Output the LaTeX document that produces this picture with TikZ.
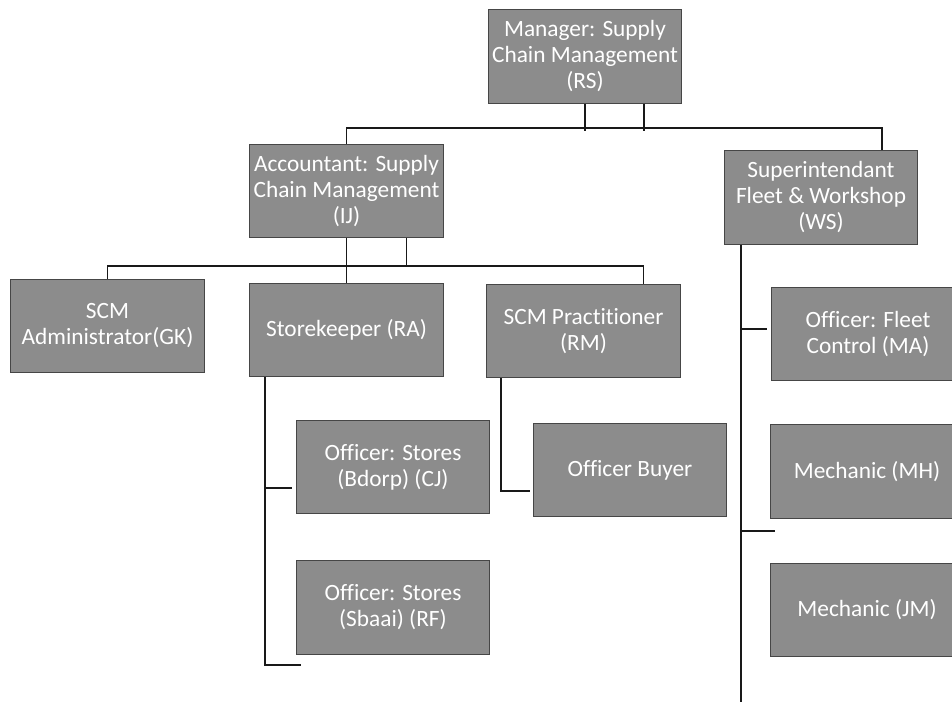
\documentclass[tikz,border=0pt]{standalone}
\usepackage{fontspec}
\setmainfont{Carlito}[Ligatures=NoCommon]
\usetikzlibrary{calc}

\begin{document}
\begin{tikzpicture}[x=0.75pt,y=0.75pt,yscale=-1,xscale=1,
        post/.style={rectangle, draw={rgb, 255:red, 70; green, 70; blue, 70}, line width=0.8pt,
            fill={rgb, 255:red, 140; green, 140; blue, 140}, text=white, align=center,
            minimum width=145pt, minimum height=70pt, inner sep=2pt,
            font=\fontsize{17.5}{19.5}\selectfont},
        conn/.style={draw={rgb, 255:red, 25; green, 25; blue, 25}, line width=1.3pt}]
        \clip (0,0) rectangle (952,702);
        % posts
        \node[post] (mgr) at (585,56.5) {Manager: Supply\\Chain Management\\(RS)};
        \node[post] (acc) at (346.5,191) {Accountant: Supply\\Chain Management\\(IJ)};
        \node[post] (ws) at (821,197.5) {Superintendant\\Fleet \& Workshop\\(WS)};
        \node[post] (adm) at (107.5,326) {SCM\\Administrator(GK)};
        \node[post] (store) at (346.5,330) {Storekeeper (RA)};
        \node[post] (prac) at (583.5,331) {SCM Practitioner\\(RM)};
        \node[post] (cj) at (393,467) {Officer: Stores\\(Bdorp) (CJ)};
        \node[post] (rf) at (393,607.5) {Officer: Stores\\(Sbaai) (RF)};
        \node[post] (buyer) at (630,470) {Officer Buyer};
        \node[post] (ma) at (868,334) {Officer: Fleet\\Control (MA)};
        \node[post] (mh) at (867,471.5) {Mechanic (MH)};
        \node[post] (jm) at (867,610) {Mechanic (JM)};
        % lines
        \draw[conn] (mgr.south) -- ++(0,27);
        \draw[conn] ($(mgr.south)+(59,0)$) -- ++(0,27);
        \draw[conn] (acc.north) |- ($(ws.north)+(61,-22)$) -- ($(ws.north)+(61,0)$);
        \draw[conn] (acc.south) -- (store.north);
        \draw[conn] ($(acc.south)+(60,0)$) -- ++(0,28);
        \draw[conn] (adm.north) |- ($(prac.north)+(60,-18)$) -- ($(prac.north)+(60,0)$);
        \draw[conn] ($(store.south west)+(16,0)$) -- ++(0,288) -- ++(36,0);
        \draw[conn] ($(cj.west)+(-31,21)$) -- ++(27,0);
        \draw[conn] ($(prac.south west)+(15,0)$) |- ($(buyer.west)+(-3,21)$);
        \draw[conn] ($(ws.south west)+(17,0)$) -- ++(0,460);
        \draw[conn] ($(ma.west)+(-30,-5)$) -- ++(26,0);
        \draw[conn] ($(mh.south west)+(-29,12)$) -- ++(34,0);
\end{tikzpicture}
\end{document}
